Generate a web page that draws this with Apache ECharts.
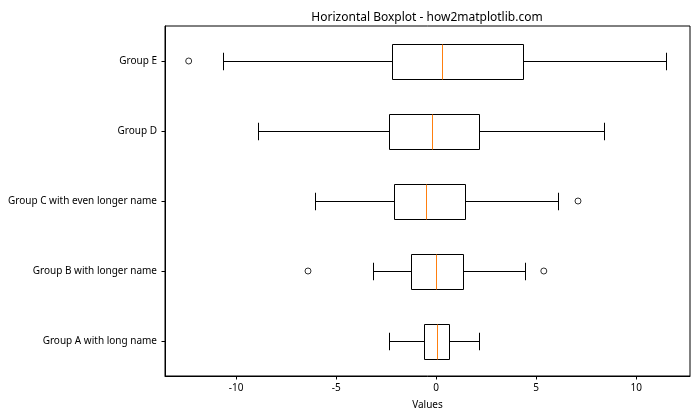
<!DOCTYPE html>
<html><head><meta charset="utf-8">
<script src="https://cdn.jsdelivr.net/npm/echarts@6/dist/echarts.min.js"></script>
<style>html,body{margin:0;padding:0;background:#fff}#c{width:700px;height:420px}</style>
</head><body><div id="c"></div>
<script>
const categories = ['Group A with long name','Group B with longer name','Group C with even longer name','Group D','Group E'];
const whiskerLow  = [-2.34, -3.16, -6.06, -8.91, -10.66];
const q1          = [-0.61, -1.26, -2.11, -2.36, -2.21];
const median      = [ 0.04, -0.01, -0.51, -0.21,  0.29];
const q3          = [ 0.64,  1.34,  1.44,  2.14,  4.34];
const whiskerHigh = [ 2.14,  4.48,  6.09,  8.39, 11.49];
const outlierGroup = [1, 1, 2, 4];
const outlierValue = [-6.41, 5.38, 7.09, -12.375];
const xTicks = [-10, -5, 0, 5, 10];

const FONT = 'Noto Sans';
const boxData = categories.map((c, i) => [i, whiskerLow[i], q1[i], median[i], q3[i], whiskerHigh[i]]);
const outData = outlierValue.map((v, i) => [v, outlierGroup[i]]);
const px = v => Math.round(v - 0.5) + 0.5;

const chart = echarts.init(document.getElementById('c'), null, {renderer: 'canvas'});
chart.setOption({
  animation: false,
  backgroundColor: '#fff',
  title: {
    text: 'Horizontal Boxplot - how2matplotlib.com',
    left: 422, top: 7, textAlign: 'center',
    textStyle: {fontFamily: FONT, fontSize: 12, fontWeight: 'normal', color: '#000'}
  },
  grid: {left: 165, right: 10, top: 26, bottom: 44, show: true, borderColor: '#000', borderWidth: 1},
  xAxis: {
    type: 'value', min: -13.56, max: 12.69,
    name: 'Values', nameLocation: 'middle', nameGap: 24,
    nameTextStyle: {fontFamily: FONT, fontSize: 10, color: '#000'},
    axisLine: {show: true, onZero: false, lineStyle: {color: '#000', width: 1}},
    axisTick: {show: true, inside: false, length: 3.5, lineStyle: {color: '#000'}, customValues: xTicks},
    axisLabel: {fontFamily: FONT, fontSize: 10, color: '#000', margin: 7, customValues: xTicks},
    splitLine: {show: false}
  },
  yAxis: {
    type: 'category', data: categories,
    axisLine: {show: true, onZero: false, lineStyle: {color: '#000', width: 1}},
    axisTick: {show: true, alignWithLabel: true, length: 3.5, lineStyle: {color: '#000'}},
    axisLabel: {fontFamily: FONT, fontSize: 10, color: '#000', margin: 8},
    splitLine: {show: false}
  },
  series: [
    {
      type: 'custom',
      data: boxData,
      encode: {x: [1, 2, 3, 4, 5], y: 0},
      renderItem: function (params, api) {
        const yi = api.value(0);
        const xLo = px(api.coord([api.value(1), yi])[0]);
        const xQ1 = px(api.coord([api.value(2), yi])[0]);
        const xMd = px(api.coord([api.value(3), yi])[0]);
        const xQ3 = px(api.coord([api.value(4), yi])[0]);
        const xHi = px(api.coord([api.value(5), yi])[0]);
        const band = api.size([0, 1])[1];
        const hb = band * 0.25, hc = band * 0.125;
        const y = px(api.coord([0, yi])[1]);
        const yt = px(y - hb), yb = px(y + hb);
        const st = {stroke: '#000', lineWidth: 1, fill: null};
        return {type: 'group', children: [
          {type: 'line', shape: {x1: xLo, y1: y, x2: xQ1, y2: y}, style: st},
          {type: 'line', shape: {x1: xQ3, y1: y, x2: xHi, y2: y}, style: st},
          {type: 'line', shape: {x1: xLo, y1: y - hc, x2: xLo, y2: y + hc}, style: st},
          {type: 'line', shape: {x1: xHi, y1: y - hc, x2: xHi, y2: y + hc}, style: st},
          {type: 'rect', shape: {x: xQ1, y: yt, width: xQ3 - xQ1, height: yb - yt}, style: {stroke: '#000', lineWidth: 1, fill: 'none'}},
          {type: 'line', shape: {x1: xMd, y1: yt, x2: xMd, y2: yb}, style: {stroke: '#ff7f0e', lineWidth: 1}}
        ]};
      },
      z: 3
    },
    {
      type: 'scatter',
      data: outData,
      symbol: 'circle', symbolSize: 6,
      itemStyle: {color: 'none', borderColor: '#000', borderWidth: 1},
      z: 4
    }
  ]
});
</script></body></html>
